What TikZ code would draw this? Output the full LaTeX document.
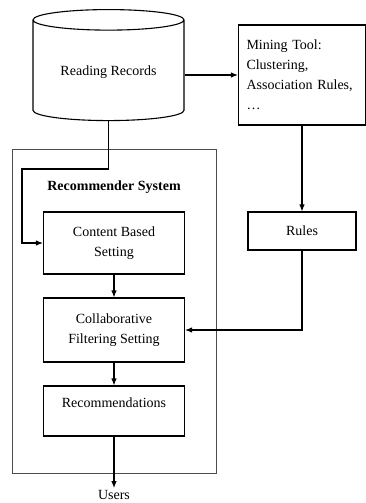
\documentclass[tikz,border=0pt]{standalone}
\usepackage{fontspec}
\setmainfont{Liberation Serif}
\usetikzlibrary{shapes.geometric,positioning,arrows.meta}

\begin{document}
\begin{tikzpicture}[x=1pt,y=-1pt,node distance=80pt,on grid,
    every node/.style={font=\fontsize{14}{20}\selectfont},
    box/.style={draw,line width=1.1pt,minimum width=141pt,align=center,inner sep=4pt},
    arr/.style={-{Latex[length=7pt,width=5.5pt]},line width=1.1pt}]
    \useasboundingbox (0,0) rectangle (366,503);
    % outer frame
    \node[draw=black!70,line width=0.8pt,minimum width=204pt,minimum height=324pt] (sys) at (114,311) {};
    \node[font=\fontsize{14}{20}\selectfont\bfseries] (title) at (114,187) {Recommender System};
    \node[cylinder,draw,line width=1.1pt,shape border rotate=90,aspect=0.2,
          minimum width=151pt,minimum height=111pt] (rec) at (108.5,72) {Reading Records};
    \node[box,minimum width=108pt,minimum height=38pt] (rules) at (302,231) {Rules};
    \node[box,minimum width=127pt,minimum height=100pt,text width=111pt,align=left,inner xsep=8pt]
          (mining) [above=156pt of rules] {Mining Tool:\\Clustering,\\Association Rules,\\\ldots};
    \node[box,minimum height=62pt] (content) at (114,243) {Content Based\\Setting};
    \node[box,minimum height=64pt] (collab) [below=87pt of content] {Collaborative\\Filtering Setting};
    \node[box,minimum height=50pt,text depth=16pt] (recs) [below=81pt of collab] {Recommendations};
    \node[inner sep=2pt] (users) [below=84pt of recs] {Users};
    \coordinate (kink) at (22,169);
    \draw[arr] (mining.west -| rec.east) -- (mining.west);
    \draw[arr] (rec.south) |- (kink) |- (content.west);
    \draw[arr] (mining.south) -- (rules.north);
    \draw[arr] (rules.south) |- (collab.east);
    \draw[arr] (content) -- (collab);
    \draw[arr] (collab) -- (recs);
    \draw[arr] (recs) -- (users);
\end{tikzpicture}
\end{document}
